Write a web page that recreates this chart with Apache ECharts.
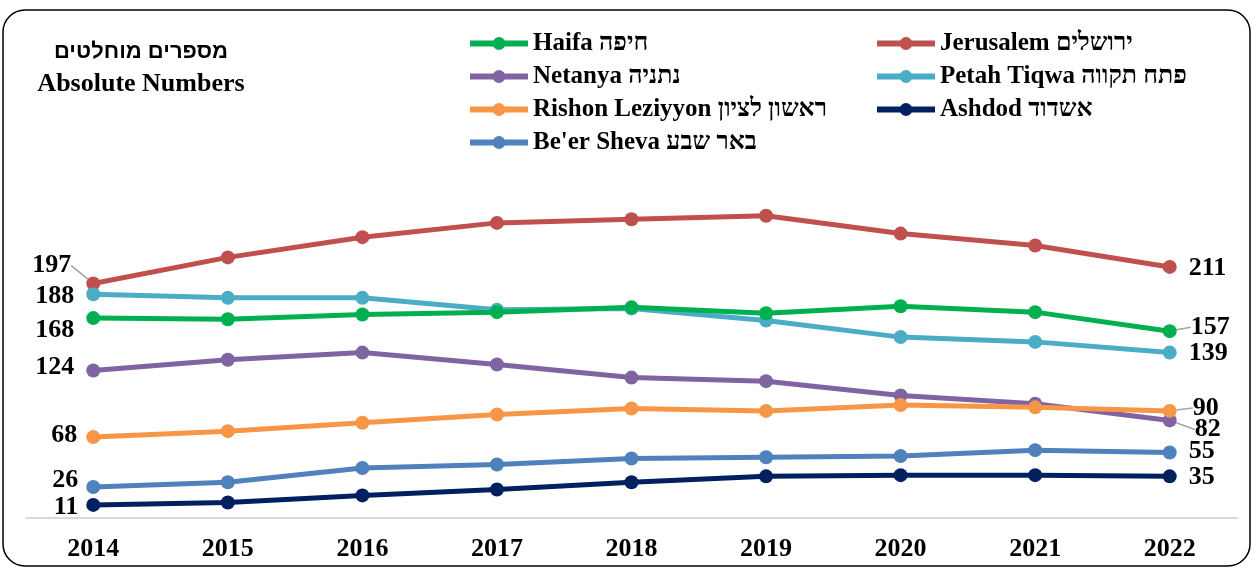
<!DOCTYPE html>
<html>
<head>
<meta charset="utf-8">
<script src="https://cdn.jsdelivr.net/npm/echarts@6/dist/echarts.min.js"></script>
<style>
  html, body { margin: 0; padding: 0; background: #fff; }
  #chart { width: 1253px; height: 569px; }
</style>
</head>
<body>
<div id="chart"></div>
<script>
  // 数据
  var years = ['2014', '2015', '2016', '2017', '2018', '2019', '2020', '2021', '2022'];
  var haifa     = [168, 167, 171, 173, 177, 172, 178, 173, 157];
  var jerusalem = [197, 219, 236, 248, 251, 254, 239, 229, 211];
  var netanya   = [124, 133, 139, 129, 118, 115, 103, 96, 82];
  var petahTiqwa = [188, 185, 185, 175, 176, 166, 152, 148, 139];
  var rishon    = [68, 73, 80, 87, 92, 90, 95, 93, 90];
  var ashdod    = [11, 13, 19, 24, 30, 35, 36, 36, 35];
  var beerSheva = [26, 30, 42, 45, 50, 51, 52, 57, 55];

  var font = '"Liberation Serif", "Times New Roman", serif';

  // 每条线: 名称, 颜色, 数据, 起点/终点标签偏移 [dx, dy], 是否画引导线
  var lines = [
    { name: 'Jerusalem ירושלים', color: '#c0504d', data: jerusalem, first: [-3, -18, true], last: [0, 1] },
    { name: 'Petah Tiqwa פתח תקווה', color: '#4bacc6', data: petahTiqwa, first: [0, 2], last: [0, 1] },
    { name: 'Haifa חיפה', color: '#00b050', data: haifa, first: [0, 12], last: [2, -4, true] },
    { name: 'Netanya נתניה', color: '#8064a2', data: netanya, first: [0, -3], last: [6, 9, true] },
    { name: 'Rishon Leziyyon ראשון לציון', color: '#f79646', data: rishon, first: [3, -2], last: [4, -3, true] },
    { name: 'Be\'er Sheva באר שבע', color: '#4f81bd', data: beerSheva, first: [4, -7], last: [0, -1] },
    { name: 'Ashdod אשדוד', color: '#002060', data: ashdod, first: [4, 2], last: [0, 1] }
  ];

  var series = lines.map(function (l) {
    var last = l.data.length - 1;
    return {
      name: l.name,
      type: 'line',
      data: l.data.map(function (v, i) {
        var item = { value: v };
        if (i === 0 || i === last) {
          var o = i === 0 ? l.first : l.last;
          item.label = { show: true, position: i === 0 ? 'left' : 'right' };
          item.labelLine = { show: !!o[2] };
        }
        return item;
      }),
      symbol: 'circle',
      symbolSize: 14,
      lineStyle: { width: 5, color: l.color },
      itemStyle: { color: l.color },
      label: {
        show: false,
        distance: 12,
        color: '#000',
        fontFamily: font,
        fontWeight: 'bold',
        fontSize: 26
      },
      labelLine: {
        show: false,
        lineStyle: { color: '#a6a6a6', width: 1.5 }
      },
      labelLayout: function (p) {
        if (p.dataIndex === 0) return { dx: l.first[0], dy: l.first[1] };
        if (p.dataIndex === last) return { dx: l.last[0], dy: l.last[1] };
        return {};
      },
      emphasis: { disabled: true },
      z: 2
    };
  });

  var legendText = { fontFamily: font, fontWeight: 'bold', fontSize: 25, color: '#000' };
  var legendBase = {
    orient: 'vertical',
    top: 31,
    padding: 0,
    itemWidth: 58,
    itemHeight: 16,
    itemGap: 8,
    lineStyle: { width: 6 },
    textStyle: legendText,
    selectedMode: false
  };

  var myChart = echarts.init(document.getElementById('chart'));
  myChart.setOption({
    animation: false,
    color: lines.map(function (l) { return l.color; }),
    legend: [
      Object.assign({}, legendBase, {
        data: ['Haifa חיפה', 'Netanya נתניה', 'Rishon Leziyyon ראשון לציון', 'Be\'er Sheva באר שבע'],
        left: 467
      }),
      Object.assign({}, legendBase, {
        data: ['Jerusalem ירושלים', 'Petah Tiqwa פתח תקווה', 'Ashdod אשדוד'],
        left: 874
      })
    ],
    graphic: [{
      type: 'rect',
      shape: { x: 3, y: 10, width: 1247, height: 556, r: 22 },
      style: { fill: 'none', stroke: '#000', lineWidth: 1.5 },
      silent: true
    }, {
      type: 'text',
      x: 141,
      y: 52,
      style: {
        text: 'מספרים מוחלטים',
        align: 'center',
        verticalAlign: 'middle',
        fontFamily: '"Liberation Sans", Arial, sans-serif',
        fontWeight: 'bold',
        fontSize: 22,
        fill: '#000'
      }
    }, {
      type: 'text',
      x: 141,
      y: 84,
      style: {
        text: 'Absolute Numbers',
        align: 'center',
        verticalAlign: 'middle',
        fontFamily: font,
        fontWeight: 'bold',
        fontSize: 26,
        fill: '#000'
      }
    }],
    grid: {
      left: 26,
      right: 16,
      top: 161,
      bottom: 51
    },
    xAxis: {
      type: 'category',
      data: years,
      boundaryGap: true,
      axisLine: { show: true, lineStyle: { color: '#d9d9d9', width: 2 } },
      axisTick: { show: false },
      axisLabel: {
        margin: 18,
        color: '#000',
        fontFamily: font,
        fontWeight: 'bold',
        fontSize: 26
      }
    },
    yAxis: {
      type: 'value',
      min: 0,
      max: 300,
      show: false,
      splitLine: { show: false }
    },
    series: series
  });
</script>
</body>
</html>
